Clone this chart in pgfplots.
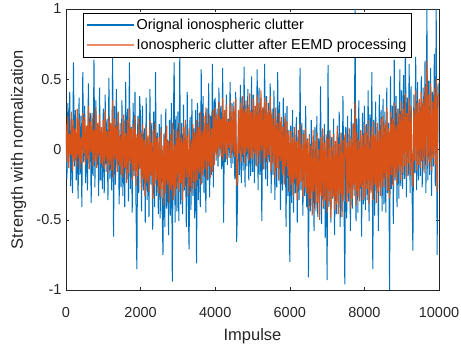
\documentclass[border=0pt]{standalone}
\usepackage{pgfplots}
\pgfplotsset{compat=1.18}
\usepackage{pgfplotstable}
\usepackage{fontspec}
\setmainfont{Liberation Sans}
\definecolor{mblue}{rgb}{0,0.447,0.741}
\definecolor{morange}{rgb}{0.85,0.325,0.098}
\definecolor{lorange}{rgb}{0.93,0.55,0.42}
\definecolor{axgray}{rgb}{0.15,0.15,0.15}

% original ionospheric clutter, one sample every 25 impulses
\pgfplotstableread[header=false,row sep=\\]{
0.12\\-0.21\\0.33\\-0.05\\0.41\\-0.26\\0.18\\-0.31\\0.62\\-0.12\\0.28\\-0.22\\0.09\\-0.35\\0.37\\-0.18\\0.24\\-0.41\\0.55\\-0.09\\
0.31\\-0.24\\0.16\\-0.29\\0.47\\-0.14\\0.26\\-0.38\\0.21\\-0.19\\0.64\\-0.27\\0.35\\-0.11\\0.19\\-0.33\\0.44\\-0.22\\0.13\\-0.28\\
0.29\\-0.31\\0.39\\-0.16\\0.22\\-0.36\\0.51\\-0.21\\0.17\\-0.29\\0.67\\-0.62\\0.31\\-0.25\\0.43\\-0.13\\0.26\\-0.39\\0.19\\-0.27\\
0.35\\-0.33\\0.21\\-0.41\\0.48\\-0.22\\0.29\\-0.37\\0.62\\-0.28\\0.16\\-0.45\\0.33\\-0.19\\0.41\\-0.36\\-0.85\\0.24\\-0.31\\0.38\\
0.22\\-0.44\\0.31\\-0.29\\0.15\\-0.52\\0.37\\-0.36\\0.09\\-0.48\\0.43\\-0.25\\0.19\\-0.57\\0.27\\-0.41\\0.55\\-0.33\\0.12\\-0.46\\
0.18\\-0.49\\0.25\\-0.38\\-0.75\\0.11\\-0.55\\0.29\\-0.42\\0.07\\-0.61\\0.21\\-0.47\\0.33\\-0.94\\0.14\\0.62\\-0.52\\0.24\\-0.44\\
0.27\\-0.51\\0.65\\-0.39\\0.19\\-0.46\\0.32\\-0.29\\0.13\\-0.55\\0.41\\-0.37\\-0.71\\0.23\\-0.43\\0.36\\-0.33\\0.15\\-0.49\\0.28\\
-0.81\\0.33\\-0.36\\0.26\\-0.41\\0.57\\-0.24\\0.38\\-0.31\\0.19\\-0.45\\0.29\\-0.22\\0.47\\-0.34\\0.24\\-0.18\\0.61\\-0.27\\0.35\\
0.36\\-0.08\\0.29\\-0.12\\0.44\\-0.05\\0.31\\-0.14\\0.58\\-0.52\\0.27\\-0.09\\0.39\\-0.11\\0.22\\-0.06\\0.48\\-0.13\\0.33\\-0.1\\
0.34\\-0.21\\0.41\\-0.66\\-0.35\\0.27\\-0.18\\0.46\\-0.24\\0.37\\-0.15\\0.59\\-0.27\\0.32\\-0.12\\0.43\\-0.22\\0.28\\-0.19\\0.52\\
-0.16\\0.39\\-0.24\\0.31\\-0.11\\0.57\\-0.29\\0.44\\-0.18\\0.36\\-0.51\\0.29\\-0.14\\0.61\\-0.21\\0.38\\-0.26\\0.33\\-0.09\\0.47\\
-0.31\\0.29\\-0.18\\0.42\\-0.36\\0.21\\-0.27\\0.55\\-0.22\\0.34\\-0.43\\0.18\\-0.29\\0.37\\-0.24\\0.26\\-0.55\\0.31\\-0.33\\0.14\\
-0.8\\0.17\\-0.38\\0.28\\-0.45\\0.12\\-0.31\\0.23\\-0.52\\0.09\\-0.36\\0.58\\-0.29\\0.19\\-0.47\\0.14\\-0.33\\0.31\\-0.41\\0.08\\
-0.91\\0.11\\-0.44\\0.21\\-0.36\\0.05\\-0.58\\0.16\\-0.39\\0.24\\-0.48\\0.08\\-0.31\\0.45\\-0.53\\0.13\\-0.42\\0.18\\-0.63\\0.07\\
-0.93\\0.6\\-0.41\\0.14\\-0.52\\0.09\\-0.35\\0.22\\-0.61\\0.04\\-0.46\\0.17\\-0.38\\0.27\\-0.55\\0.12\\-0.44\\0.38\\-0.29\\-0.96\\
0.16\\-0.49\\0.24\\-0.37\\0.11\\-0.58\\0.29\\-0.42\\0.19\\-0.33\\1.0\\-0.51\\0.22\\-0.45\\0.35\\-0.28\\0.13\\-0.62\\0.26\\-0.39\\
0.31\\-0.43\\0.18\\-0.36\\0.42\\-0.51\\0.25\\-0.29\\0.55\\-0.85\\0.21\\-0.47\\0.34\\-0.31\\0.16\\-0.58\\0.39\\-0.26\\0.28\\-0.44\\
0.36\\-0.39\\0.27\\-0.45\\0.44\\-0.31\\0.19\\-1.0\\0.52\\-0.28\\0.31\\-0.53\\0.64\\-0.22\\0.38\\-0.41\\0.29\\-0.35\\0.57\\-0.26\\
0.42\\-0.28\\0.53\\-0.21\\0.85\\-0.34\\0.37\\-0.19\\0.61\\-0.31\\0.45\\-0.24\\-0.72\\0.39\\-0.17\\0.66\\-0.29\\0.48\\-0.22\\0.35\\
-0.19\\0.52\\-0.27\\0.44\\-0.14\\0.63\\-0.31\\1.0\\-0.22\\0.49\\-0.18\\0.58\\-0.33\\0.41\\-0.12\\0.68\\-0.26\\1.0\\-0.75\\0.47\\
}\origdata

% ionospheric clutter after EEMD processing, one sample every 25 impulses
\pgfplotstableread[header=false,row sep=\\]{
0.18\\-0.09\\0.24\\-0.13\\0.11\\-0.04\\0.27\\-0.15\\0.21\\-0.08\\0.15\\-0.12\\0.29\\-0.06\\0.22\\-0.14\\0.09\\-0.1\\0.26\\-0.03\\
0.23\\-0.11\\0.17\\-0.07\\0.31\\-0.14\\0.2\\-0.02\\0.26\\-0.12\\0.14\\-0.09\\0.3\\-0.13\\0.19\\-0.05\\0.25\\-0.1\\0.16\\-0.12\\
0.21\\-0.14\\0.28\\-0.08\\0.13\\-0.17\\0.24\\-0.11\\0.19\\-0.15\\0.35\\-0.2\\0.22\\-0.07\\0.17\\-0.16\\0.27\\-0.12\\0.1\\-0.18\\
0.19\\-0.2\\0.25\\-0.13\\0.12\\-0.24\\0.21\\-0.17\\0.29\\-0.1\\0.15\\-0.22\\0.18\\-0.15\\0.24\\-0.26\\0.11\\-0.19\\0.22\\-0.14\\
0.12\\-0.29\\0.18\\-0.21\\0.07\\-0.33\\0.16\\-0.24\\0.1\\-0.3\\0.21\\-0.19\\0.05\\-0.35\\0.14\\-0.26\\0.19\\-0.22\\0.08\\-0.31\\
0.09\\-0.34\\0.15\\-0.28\\0.03\\-0.4\\0.12\\-0.31\\0.17\\-0.25\\0.06\\-0.38\\0.11\\-0.29\\0.19\\-0.36\\0.04\\-0.33\\0.14\\-0.27\\
0.13\\-0.3\\0.19\\-0.24\\0.08\\-0.37\\0.16\\-0.27\\0.21\\-0.2\\0.1\\-0.33\\0.15\\-0.26\\0.07\\-0.31\\0.18\\-0.23\\0.12\\-0.28\\
0.21\\-0.22\\0.16\\-0.17\\0.27\\-0.25\\0.13\\-0.19\\0.24\\-0.14\\0.3\\-0.21\\0.18\\-0.12\\0.25\\-0.2\\0.15\\-0.16\\0.28\\-0.11\\
0.3\\-0.04\\0.25\\-0.06\\0.34\\0.0\\0.22\\-0.05\\0.37\\-0.08\\0.28\\-0.03\\0.32\\-0.07\\0.2\\0.01\\0.35\\-0.06\\0.27\\-0.02\\
0.31\\-0.05\\0.36\\-0.26\\-0.18\\0.28\\-0.03\\0.33\\-0.09\\0.38\\-0.04\\0.29\\-0.1\\0.35\\-0.02\\0.3\\-0.08\\0.4\\-0.06\\0.27\\
-0.07\\0.36\\-0.03\\0.31\\-0.12\\0.39\\-0.05\\0.33\\-0.1\\0.42\\-0.01\\0.3\\-0.14\\0.37\\-0.06\\0.34\\-0.09\\0.28\\-0.04\\0.38\\
-0.16\\0.27\\-0.1\\0.22\\-0.2\\0.3\\-0.13\\0.19\\-0.22\\0.26\\-0.08\\0.23\\-0.18\\0.16\\-0.25\\0.24\\-0.12\\0.2\\-0.19\\0.13\\
-0.3\\0.13\\-0.25\\0.09\\-0.33\\0.16\\-0.21\\0.06\\-0.36\\0.14\\-0.28\\0.18\\-0.23\\0.04\\-0.34\\0.11\\-0.27\\0.15\\-0.31\\0.07\\
-0.42\\0.1\\-0.35\\0.03\\-0.47\\0.14\\-0.3\\0.06\\-0.44\\0.12\\-0.38\\0.0\\-0.5\\0.09\\-0.33\\0.15\\-0.41\\0.05\\-0.36\\0.11\\
-0.45\\0.08\\-0.37\\0.13\\-0.49\\0.02\\-0.34\\0.11\\-0.43\\0.06\\-0.39\\0.16\\-0.46\\0.04\\-0.32\\0.12\\-0.48\\0.07\\-0.36\\0.1\\
0.11\\-0.38\\0.05\\-0.31\\0.15\\-0.42\\0.08\\-0.35\\0.18\\-0.29\\0.34\\-0.4\\0.12\\-0.33\\0.07\\-0.37\\0.14\\-0.27\\0.1\\-0.36\\
0.18\\-0.34\\0.12\\-0.28\\0.21\\-0.39\\0.09\\-0.31\\0.16\\-0.36\\0.2\\-0.25\\0.11\\-0.38\\0.19\\-0.3\\0.14\\-0.33\\0.22\\-0.27\\
0.24\\-0.27\\0.19\\-0.21\\0.3\\-0.29\\0.15\\-0.35\\0.27\\-0.18\\0.22\\-0.26\\0.33\\-0.2\\0.17\\-0.24\\0.29\\-0.16\\0.26\\-0.22\\
0.34\\-0.17\\0.29\\-0.12\\0.4\\-0.2\\0.26\\-0.1\\0.37\\-0.18\\0.31\\-0.14\\-0.27\\0.28\\-0.08\\0.42\\-0.15\\0.33\\-0.11\\0.36\\
-0.13\\0.41\\-0.08\\0.36\\-0.17\\0.45\\-0.05\\0.63\\-0.12\\0.39\\-0.09\\0.47\\-0.15\\0.34\\-0.06\\0.44\\-0.11\\0.5\\-0.3\\0.4\\
}\eemddata

\begin{document}
\begin{tikzpicture}
\begin{axis}[
  scale only axis,
  width=373bp, height=281bp,
  xmin=0, xmax=10000, ymin=-1, ymax=1,
  scaled x ticks=false, scaled y ticks=false,
  xtick={0,2000,4000,6000,8000,10000},
  xticklabels={0,2000,4000,6000,8000,10000},
  ytick={-1,-0.5,0,0.5,1},
  yticklabels={-1,-0.5,0,0.5,1},
  tick align=inside,
  major tick length=3.5bp,
  axis line style={axgray, line width=0.5bp},
  every tick/.style={axgray, line width=0.5bp},
  tick label style={font=\fontsize{14.5bp}{17bp}\selectfont, text=axgray},
  xticklabel style={yshift=-14bp},
  yticklabel style={xshift=-1bp},
  xlabel={Impulse},
  ylabel={Strength with normalization},
  label style={font=\fontsize{16.5bp}{19bp}\selectfont, text=axgray},
  xlabel style={at={(axis description cs:0.5,-0.18)}, anchor=base},
  ylabel style={at={(axis description cs:-0.127,0.5)}, anchor=center, rotate=0},
  legend cell align=left,
  legend style={at={(axis description cs:0.0456,0.9858)}, anchor=north west,
    fill=white, font=\fontsize{14.4bp}{17bp}\selectfont,
    inner xsep=3bp, inner ysep=4bp, row sep=4bp},
]
\addplot[color=mblue, line width=1.0bp,
  legend image code/.code={\draw[draw=mblue, line width=1.5bp] (0bp,0bp) -- (47bp,0bp);}]
  table[x expr=\coordindex*25, y index=0] {\origdata};
\addlegendentry{Orignal ionospheric clutter}
\addplot[color=morange, line width=1.1bp,
  legend image code/.code={\draw[draw=lorange, line width=1.5bp] (0bp,0bp) -- (47bp,0bp);}]
  table[x expr=\coordindex*25, y index=0] {\eemddata};
\addlegendentry{Ionospheric clutter after EEMD processing}
\end{axis}
\pgfresetboundingbox
\path[use as bounding box] (-66bp,-57bp) rectangle (395bp,290bp);
\end{tikzpicture}
\end{document}
